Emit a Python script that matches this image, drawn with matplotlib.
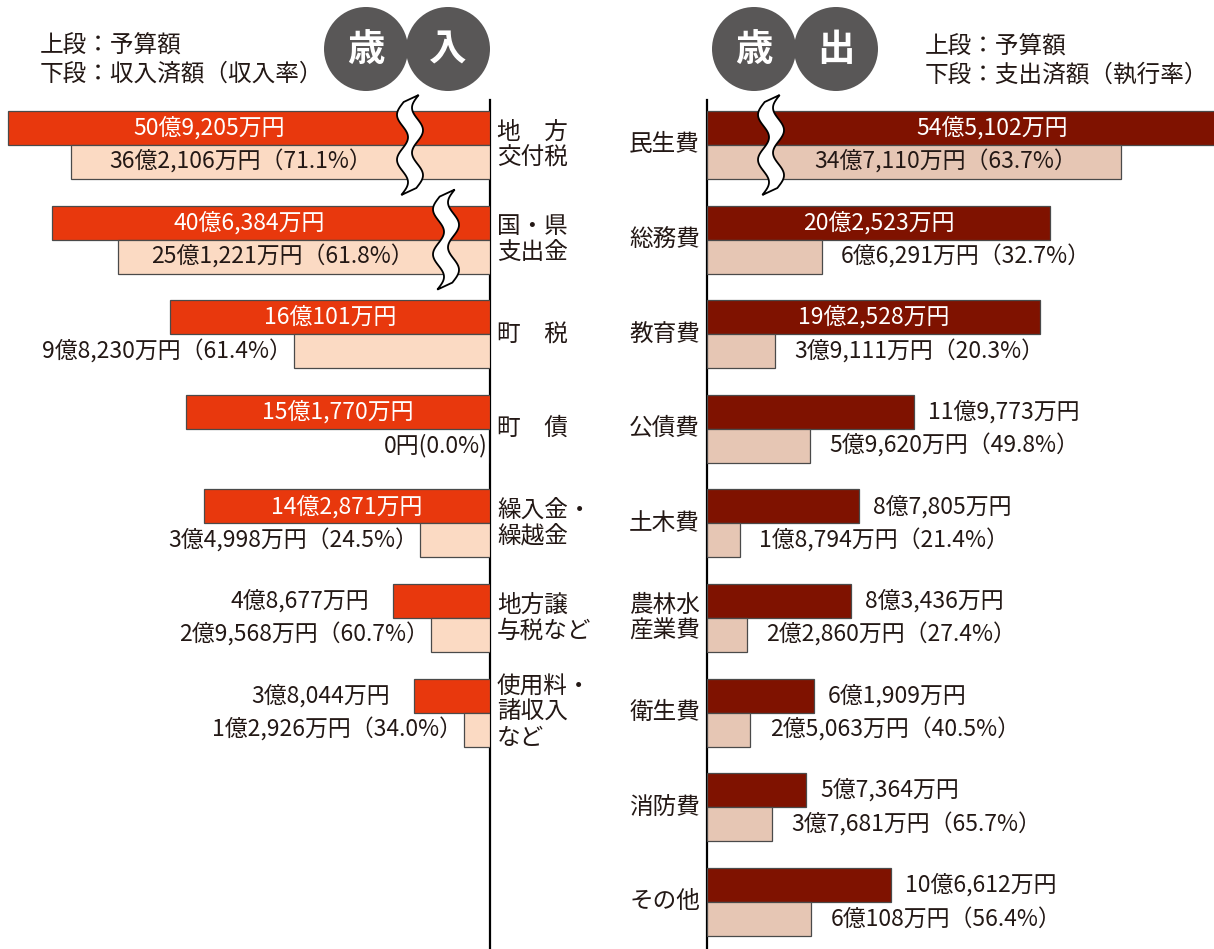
import numpy as np
import matplotlib
matplotlib.use("Agg")
import matplotlib.pyplot as plt
from matplotlib.patches import Circle, Polygon
from matplotlib.transforms import ScaledTranslation

plt.rcParams['font.family'] = ['Noto Sans CJK JP', 'DejaVu Sans']

# 歳入（単位：万円）
rev_cats = ['地　方\n交付税', '国・県\n支出金', '町　税', '町　債',
            '繰入金・\n繰越金', '地方譲\n与税など', '使用料・\n諸収入\nなど']
rev_budget = [509205, 406384, 160101, 151770, 142871, 48677, 38044]
rev_actual = [362106, 251221, 98230, 0, 34998, 29568, 12926]

# 歳出（単位：万円）
exp_cats = ['民生費', '総務費', '教育費', '公債費', '土木費',
            '農林水\n産業費', '衛生費', '消防費', 'その他']
exp_budget = [545102, 202523, 192528, 119773, 87805, 83436, 61909, 57364, 106612]
exp_actual = [347110, 66291, 39111, 59620, 18794, 22860, 25063, 37681, 60108]

# 省略表示（波線）を入れる項目
rev_breaks = [(0, 4.0), (1, 2.2)]
exp_breaks = [(0, 3.7)]

W, H = 1214, 949
DARK = '#231815'
REV_TOP, REV_BOT = '#e8380d', '#fbdac3'
EXP_TOP, EXP_BOT = '#7f1200', '#e6c6b4'
EDGE = '#4a4a4a'
VAL_FS, CAT_FS = 16.5, 17


def yen(man):
    oku, rest = divmod(man, 10000)
    if oku == 0 and rest == 0:
        return '0円'
    s = f'{oku}億' if oku else ''
    if rest:
        s += f'{rest:,}万'
    return s + '円'


def rate(a, b):
    if a == 0:
        return '(0.0%)'
    return f'（{a / b * 100:.1f}%）'


def make_scale(t, k):
    def fwd(v):
        v = np.asarray(v, dtype=float)
        return np.where(v <= t, v, t + (v - t) * k)

    def inv(u):
        u = np.asarray(u, dtype=float)
        return np.where(u <= t, u, t + (u - t) / k)
    return fwd, inv


def draw_break(ax, x, y):
    t = np.linspace(-0.465, 0.465, 80)
    cx = 0.055 * np.sin(2 * np.pi * t / 0.45)
    w, s = 0.075, 0.035
    left = np.column_stack([cx - w, t - s])
    right = np.column_stack([cx + w, t + s])[::-1]
    tr = ax.figure.dpi_scale_trans + ScaledTranslation(x, y, ax.transData)
    ax.add_patch(Polygon(np.vstack([left, right]), closed=True, transform=tr,
                         fc='white', ec='black', lw=1.3, zorder=6, clip_on=False))


fig = plt.figure(figsize=(W / 100, H / 100), dpi=100)

# header decorations
deco = fig.add_axes([0, 0, 1, 1])
deco.set_xlim(0, W)
deco.set_ylim(H, 0)
deco.axis('off')
for cx, ch in [(366, '歳'), (448, '入'), (754, '歳'), (836, '出')]:
    deco.add_patch(Circle((cx, 49), 42, fc='#595757', ec='none'))
    deco.text(cx, 49, ch, color='white', fontsize=27, fontweight='bold',
              ha='center', va='center')
deco.text(40, 46, '上段：予算額', fontsize=CAT_FS, color=DARK, va='center')
deco.text(40, 74, '下段：収入済額（収入率）', fontsize=CAT_FS, color=DARK, va='center')
deco.text(925, 47, '上段：予算額', fontsize=CAT_FS, color=DARK, va='center')
deco.text(925, 75, '下段：支出済額（執行率）', fontsize=CAT_FS, color=DARK, va='center')

top_px, step_px, first_px = 100, 94.6, 145
ylim = ((H - first_px) / step_px, (top_px - first_px) / step_px)
bh = 34 / step_px


def panel(rect, cats, budget, actual, breaks, side, px_per, t, k,
          c_top, c_bot, in_top, in_bot):
    ax = fig.add_axes(rect)
    ax.patch.set_alpha(0)
    fwd, inv = make_scale(t, k)
    ax.set_xscale('function', functions=(fwd, inv))
    width_units = rect[2] * W / px_per
    xmax = float(inv(width_units))
    y = np.arange(len(cats))
    b = np.array(budget) / 1e4
    a = np.array(actual) / 1e4
    ax.barh(y - bh / 2, b, height=bh, color=c_top, edgecolor=EDGE, lw=0.9, zorder=3)
    ax.barh(y + bh / 2, a, height=bh, color=c_bot, edgecolor=EDGE, lw=0.9, zorder=3)
    brk = dict(breaks)
    sgn = -1 if side == 'left' else 1
    for i in y:
        for val, yy, inside, txt, out_off in [
                (b[i], i - bh / 2, in_top, yen(budget[i]),
                 17 if side == 'left' else 10),
                (a[i], i + bh / 2, in_bot,
                 yen(actual[i]) + rate(actual[i], budget[i]),
                 1.5 if side == 'left' else 14)]:
            if val >= inside:
                lo = brk.get(i, 0.0)
                hi = min(float(fwd(val)), width_units)
                xc = float(inv((float(fwd(lo)) + hi) / 2))
                ax.text(xc, yy, txt, ha='center', va='center', fontsize=VAL_FS,
                        color='white' if yy < i else DARK, zorder=7)
            else:
                ax.annotate(txt, (val, yy), xytext=(sgn * out_off, 0),
                            textcoords='offset points', fontsize=VAL_FS, color=DARK,
                            ha='right' if side == 'left' else 'left', va='center',
                            zorder=7)
    for i, xb in breaks:
        draw_break(ax, xb, i)
    for i, c in enumerate(cats):
        if side == 'left':
            ax.annotate(c, (1, i), xycoords=ax.get_yaxis_transform(),
                        xytext=(5, 0), textcoords='offset points', ha='left',
                        va='center', fontsize=CAT_FS, color=DARK, linespacing=1.15)
        else:
            ax.annotate(c, (0, i), xycoords=ax.get_yaxis_transform(),
                        xytext=(-5, 0), textcoords='offset points', ha='right',
                        va='center', fontsize=CAT_FS, color=DARK, linespacing=1.15)
    for sp in ax.spines.values():
        sp.set_visible(False)
    keep = 'right' if side == 'left' else 'left'
    ax.spines[keep].set_visible(True)
    ax.spines[keep].set_linewidth(1.6)
    ax.spines[keep].set_color('black')
    ax.set_xticks([])
    ax.set_yticks([])
    ax.minorticks_off()
    ax.set_ylim(*ylim)
    if side == 'left':
        ax.set_xlim(xmax, 0)
    else:
        ax.set_xlim(0, xmax)
    return ax


ax_h = (H - top_px) / H
panel([0, 0, 490 / W, ax_h], rev_cats, rev_budget, rev_actual, rev_breaks,
      'left', 20.0, 16.84, 0.213, REV_TOP, REV_BOT, 10, 20)
panel([707 / W, 0, 1 - 707 / W, ax_h], exp_cats, exp_budget, exp_actual, exp_breaks,
      'right', 17.3, 19.7, 0.28, EXP_TOP, EXP_BOT, 15, 20)

fig.savefig('out.png', dpi=100)
